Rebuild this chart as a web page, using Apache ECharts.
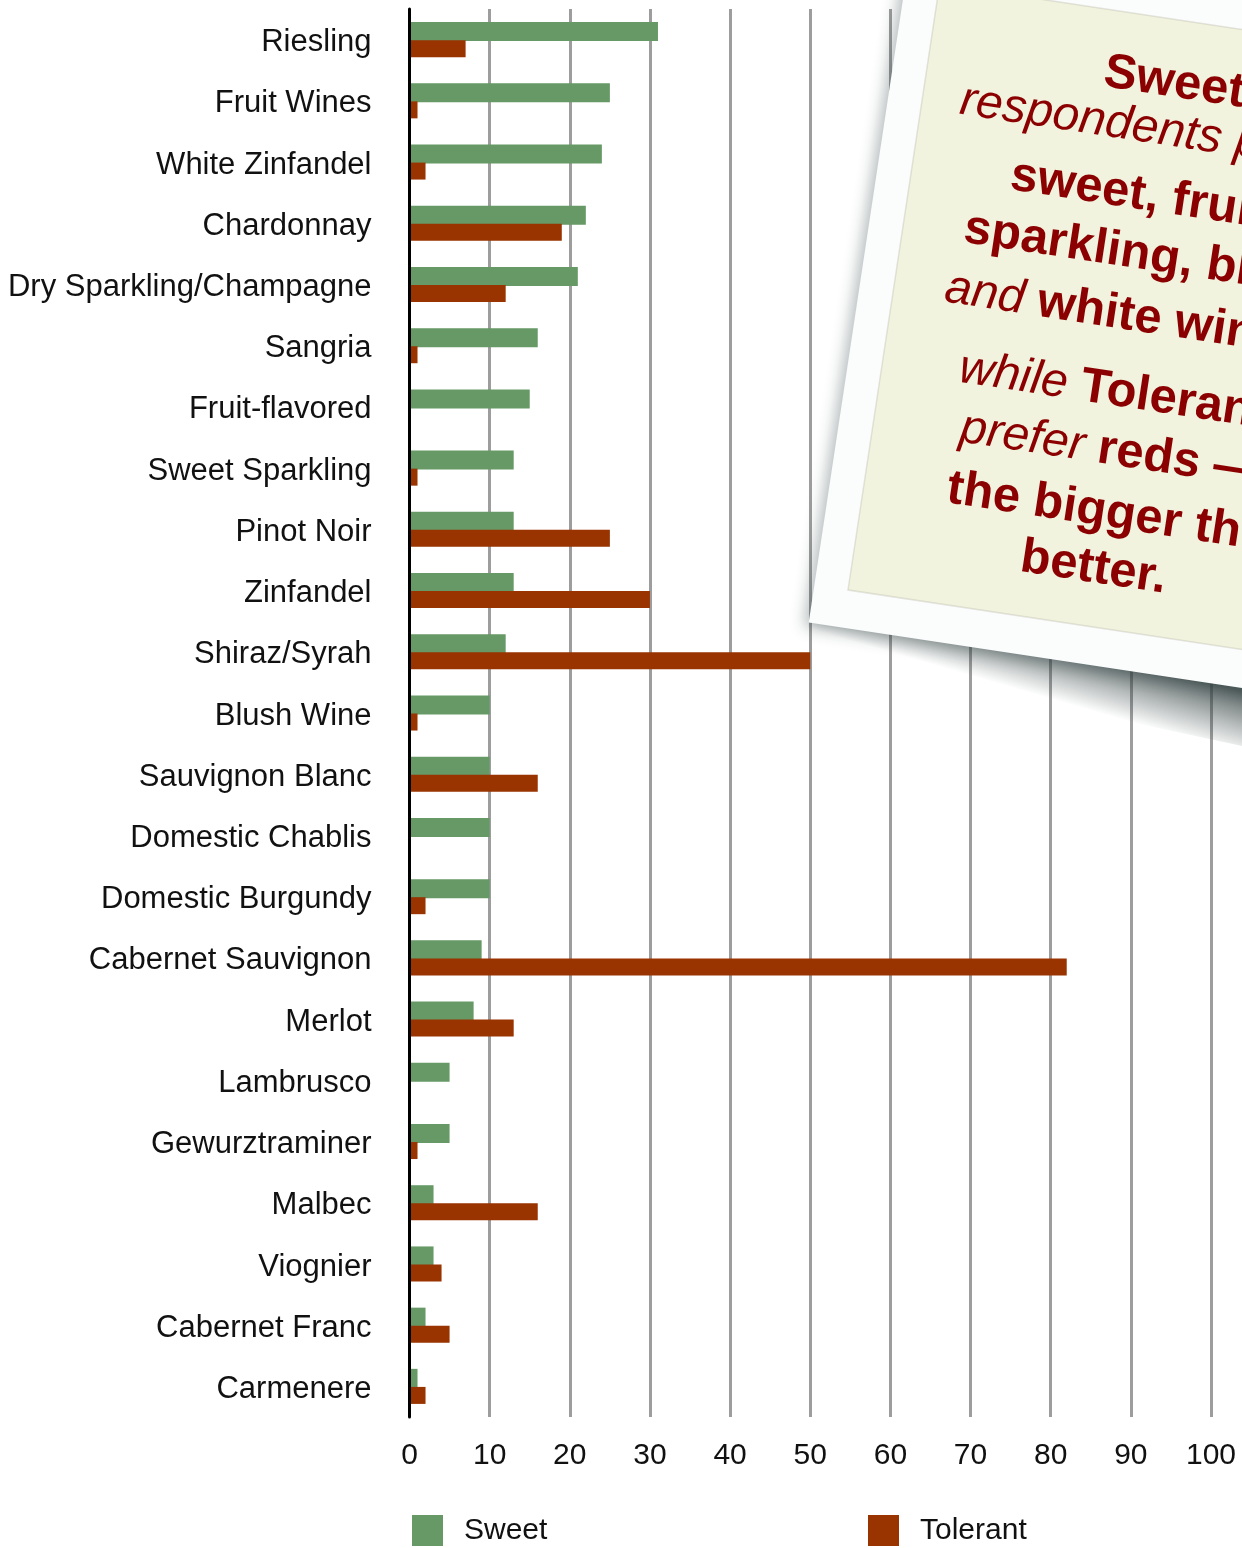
<!DOCTYPE html>
<html>
<head>
<meta charset="utf-8">
<script src="https://cdn.jsdelivr.net/npm/echarts@6/dist/echarts.min.js"></script>
<style>
  html, body { margin: 0; padding: 0; background: #ffffff; }
  #chart { width: 1242px; height: 1548px; }
</style>
</head>
<body>
<div id="chart"></div>
<script>
// Wine preferences by segment (percent of respondents)
const categories = [
  'Riesling', 'Fruit Wines', 'White Zinfandel', 'Chardonnay',
  'Dry Sparkling/Champagne', 'Sangria', 'Fruit-flavored', 'Sweet Sparkling',
  'Pinot Noir', 'Zinfandel', 'Shiraz/Syrah', 'Blush Wine', 'Sauvignon Blanc',
  'Domestic Chablis', 'Domestic Burgundy', 'Cabernet Sauvignon', 'Merlot',
  'Lambrusco', 'Gewurztraminer', 'Malbec', 'Viognier', 'Cabernet Franc',
  'Carmenere'
];
const sweetValues = [31, 25, 24, 22, 21, 16, 15, 13, 13, 13, 12, 10, 10, 10, 10, 9, 8, 5, 5, 3, 3, 2, 1];
const tolerantValues = [7, 1, 2, 19, 12, 1, 0, 1, 25, 30, 50, 1, 16, 0, 2, 82, 13, 0, 1, 16, 4, 5, 2];
const seriesNames = ['Sweet', 'Tolerant'];
const axisMin = 0;
const axisMax = 100;
const axisStep = 10;

// Text of the tilted note card, one entry per line ({b|..} bold, {i|..} italic)
const noteLines = [
  '{b|Sweet}',
  '{i|respondents prefer}',
  '{b|sweet, fruity,}',
  '{b|sparkling, blush}',
  '{i|and }{b|white wines}',
  '{i|while }{b|Tolerants}',
  '{i|prefer }{b|reds \u2014}',
  '{b|the bigger they}',
  '{b|better.}'
];

const FONT = '"Liberation Sans", Arial, Helvetica, sans-serif';
const GREEN = '#669966';
const RUST = '#993300';
const NOTE_RED = '#8b0000';
const CARD_Z = 100;

// Card geometry, in the card's own (tilted) frame
const cardOrigin = [848, 590];
const cardTilt = -8.6 * Math.PI / 180;
const lineAnchors = [
  [176, -550], [38, -501], [99, -434], [61, -375], [51, -313],
  [77, -236], [87, -177], [83, -115], [166, -58]
];

const noteRich = {
  b: { fontFamily: FONT, fontWeight: 'bold', fontSize: 49, fill: NOTE_RED },
  i: { fontFamily: FONT, fontStyle: 'italic', fontWeight: 'normal', fontSize: 48, fill: NOTE_RED }
};

const noteTexts = noteLines.map(function (line, k) {
  return {
    type: 'text',
    z: CARD_Z,
    x: lineAnchors[k][0],
    y: lineAnchors[k][1],
    style: {
      text: line, rich: noteRich, fill: NOTE_RED,
      font: 'bold 49px ' + FONT,
      align: 'left', verticalAlign: 'middle'
    }
  };
});

const chart = echarts.init(document.getElementById('chart'), null, { renderer: 'canvas' });

chart.setOption({
  animation: false,
  backgroundColor: '#ffffff',
  grid: { left: 409.5, width: 801.5, top: 9, height: 1408 },
  xAxis: {
    type: 'value',
    min: axisMin,
    max: axisMax,
    interval: axisStep,
    axisLine: { show: false },
    axisTick: { show: false },
    axisLabel: { fontFamily: FONT, fontSize: 30, color: '#111111', margin: 24 },
    splitLine: { show: true, lineStyle: { color: '#9d9d9d', width: 3 } }
  },
  yAxis: {
    type: 'category',
    data: categories,
    inverse: true,
    z: 3,
    axisLine: { show: true, lineStyle: { color: '#000000', width: 3 } },
    axisTick: { show: false },
    axisLabel: {
      margin: 38,
      formatter: function (name) { return '{c|' + name + '}'; },
      rich: {
        c: { fontFamily: FONT, fontSize: 31, color: '#111111', padding: [6, 0, 0, 0] }
      }
    },
    splitLine: { show: false }
  },
  legend: [
    {
      data: [seriesNames[0]], left: 412, top: 1515, padding: 0,
      itemWidth: 31, itemHeight: 31, icon: 'rect',
      textStyle: { fontFamily: FONT, fontSize: 30, color: '#111111', padding: [4, 0, 0, 16] }
    },
    {
      data: [seriesNames[1]], left: 868, top: 1515, padding: 0,
      itemWidth: 31, itemHeight: 31, icon: 'rect',
      textStyle: { fontFamily: FONT, fontSize: 30, color: '#111111', padding: [4, 0, 0, 16] }
    }
  ],
  series: [
    {
      name: seriesNames[0], type: 'bar', data: sweetValues,
      barWidth: 19, barGap: '-5%',
      itemStyle: { color: GREEN }
    },
    {
      name: seriesNames[1], type: 'bar', data: tolerantValues,
      barWidth: 17, barGap: '-5%',
      itemStyle: { color: RUST }
    }
  ],
  graphic: {
    elements: [
      {
        type: 'group',
        x: cardOrigin[0],
        y: cardOrigin[1],
        rotation: cardTilt,
        z: CARD_Z,
        zlevel: 1,
        silent: true,
        children: [
          // curled shadow under the card's lower edge
          {
            type: 'polygon',
            z: CARD_Z,
            shape: { points: [[-34, 20], [820, 20], [820, 120], [-34, 68]] },
            style: {
              fill: {
                type: 'linear', global: true,
                x: -34, y: 44, x2: -26, y2: -16,
                colorStops: [
                  { offset: 0, color: 'rgba(55,68,68,0)' },
                  { offset: 1, color: 'rgba(55,68,68,0.82)' }
                ]
              }
            }
          },
          // white mat
          {
            type: 'rect',
            z: CARD_Z,
            shape: { x: -34, y: -650, width: 800, height: 688 },
            style: {
              fill: '#fbfcfc',
              shadowBlur: 16,
              shadowColor: 'rgba(20,40,40,0.35)',
              shadowOffsetX: -4,
              shadowOffsetY: 4
            }
          },
          // cream paper
          {
            type: 'rect',
            z: CARD_Z,
            shape: { x: 0, y: -613, width: 760, height: 613 },
            style: { fill: '#f2f3df', stroke: 'rgba(120,120,100,0.18)', lineWidth: 1.5 }
          }
        ].concat(noteTexts)
      }
    ]
  }
});
</script>
</body>
</html>
